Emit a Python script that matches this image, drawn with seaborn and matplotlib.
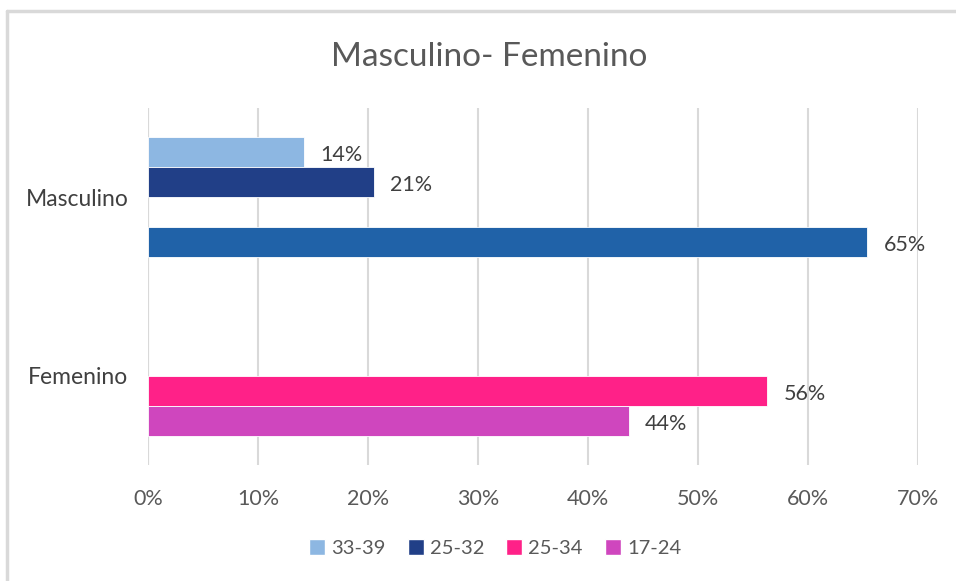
import matplotlib
matplotlib.use("Agg")
import matplotlib.pyplot as plt
from matplotlib.lines import Line2D
from matplotlib.patches import Patch
import seaborn as sns
import pandas as pd

# ---- data ----
genders = ["Masculino", "Masculino", "Masculino", "Femenino", "Femenino"]
ages = ["33-39", "25-32", "17-24", "25-34", "17-24"]
values = [0.142, 0.205, 0.654, 0.563, 0.437]
labels = ["14%", "21%", "65%", "56%", "44%"]
category_order = ["Masculino", "Femenino"]
hue_order = ["33-39", "25-32", "25-34", "17-24"]
colors = {"33-39": "#8DB7E2", "25-32": "#213F87", "25-34": "#FF2188", "17-24": "#CF46BE"}
special_color = "#2062A8"  # Masculino 17-24 bar
title = "Masculino- Femenino"
xticks = [0, 0.1, 0.2, 0.3, 0.4, 0.5, 0.6, 0.7]
xtick_labels = ["0%", "10%", "20%", "30%", "40%", "50%", "60%", "70%"]

df = pd.DataFrame({"gender": genders, "age": ages, "value": values, "label": labels})

sns.set_style("white")
plt.rcParams["font.family"] = ["Lato", "DejaVu Sans"]

fig = plt.figure(figsize=(9.56, 5.81), dpi=100)
ax = fig.add_axes([0.1548, 0.1997, 0.9603 - 0.1548, 0.8141 - 0.1997])

sns.barplot(data=df, y="gender", x="value", hue="age", order=category_order,
            hue_order=hue_order, palette=colors, saturation=1, orient="h", width=0.672,
            gap=0, dodge=True, errorbar=None, ax=ax, legend=False,
            edgecolor="white", linewidth=0.6, zorder=3)

# recolor special point and add labels
for cont, hue in zip(ax.containers, hue_order):
    sub = df[df["age"] == hue]
    for bar in cont:
        yc = bar.get_y() + bar.get_height() / 2
        cat_idx = int(round(yc))
        gender = category_order[cat_idx]
        row = sub[sub["gender"] == gender]
        if row.empty:
            continue
        if hue == "17-24" and gender == "Masculino":
            bar.set_facecolor(special_color)
        ax.annotate(row["label"].iloc[0], (bar.get_width(), yc),
                    xytext=(16, -3), textcoords="offset pixels",
                    ha="left", va="center", fontsize=15.5, color="#404040")

ax.set_xlim(0, 0.7)
ax.set_ylim(1.5, -0.5)
ax.set_xticks(xticks)
ax.set_xticklabels(xtick_labels, fontsize=15.5, color="#595959")
ax.tick_params(axis="x", length=0, pad=17)
ax.tick_params(axis="y", length=0, pad=14, labelsize=16.5, labelcolor="#404040")
ax.set_xlabel("")
ax.set_ylabel("")
ax.grid(axis="x", color="#D9D9D9", linewidth=1.5, zorder=0)
ax.set_axisbelow(True)
for s in ax.spines.values():
    s.set_visible(False)
ax.axvline(0, color="#D9D9D9", linewidth=1.5, zorder=1)

fig.text(0.5118, 1 - 57 / 581, title, ha="center", va="center", fontsize=24,
         color="#595959")

handles = [Patch(facecolor=colors[h], edgecolor="white", label=h) for h in hue_order]
fig.legend(handles=handles, loc="center", bbox_to_anchor=(0.518, 1 - 548 / 581),
           ncol=4, frameon=False, fontsize=14.5, handlelength=0.8, handleheight=0.8,
           handletextpad=0.3, columnspacing=1.1, labelcolor="#595959")

# chart border
fig.add_artist(Line2D([7 / 956, 1], [1 - 11 / 581, 1 - 11 / 581], color="#D9D9D9", linewidth=2.5))
fig.add_artist(Line2D([7 / 956, 7 / 956], [0, 1 - 11 / 581], color="#D9D9D9", linewidth=2.5))

fig.savefig("out.png", dpi=100, facecolor="white")
